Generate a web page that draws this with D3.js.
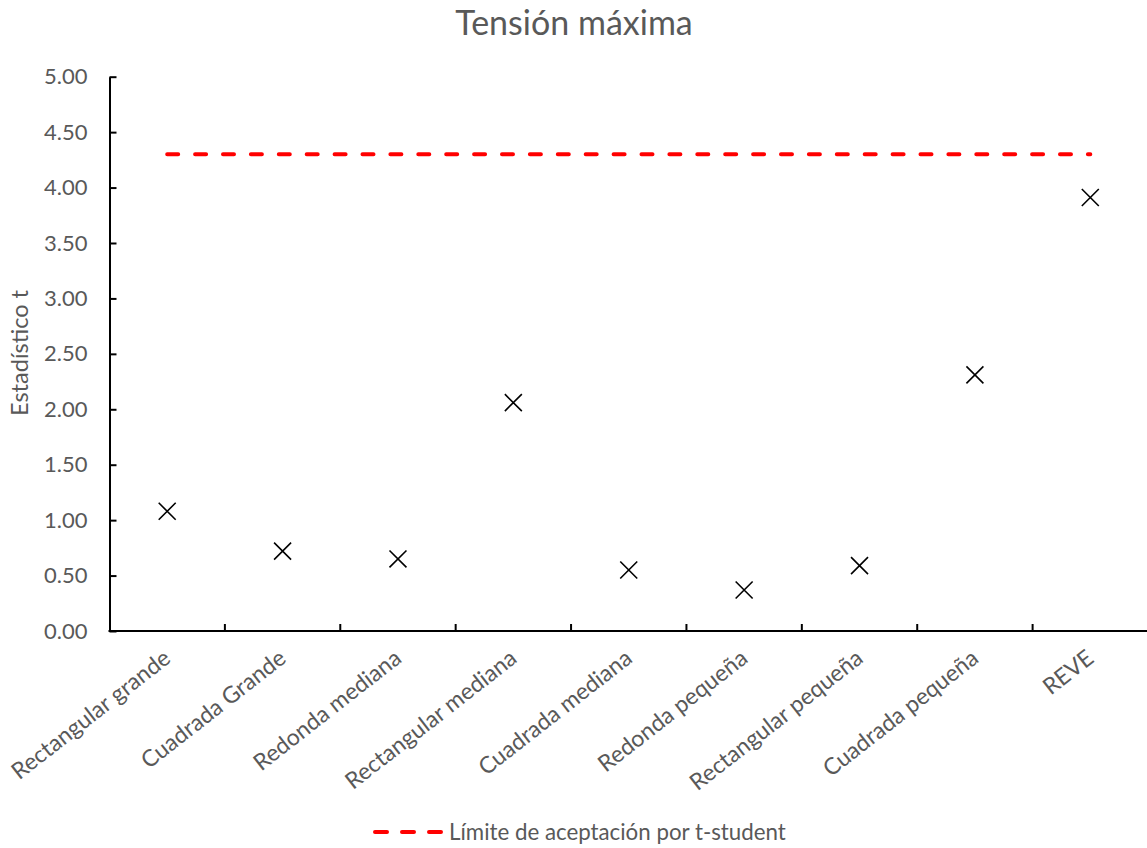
<!DOCTYPE html>
<html><head><meta charset="utf-8">
<script src="https://cdn.jsdelivr.net/npm/d3@7"></script>
<style>
html,body{margin:0;padding:0;background:#fff;}
text{font-family:Lato,"Open Sans",sans-serif;fill:#595959;}
</style></head>
<body><svg id="c" width="1147" height="848"></svg>
<script>
const categories = ["Rectangular grande","Cuadrada Grande","Redonda mediana","Rectangular mediana","Cuadrada mediana","Redonda pequeña","Rectangular pequeña","Cuadrada pequeña","REVE"];
const tStatValues = [1.08,0.72,0.65,2.06,0.55,0.37,0.59,2.31,3.91];
const acceptanceLimit = [4.30,4.30,4.30,4.30,4.30,4.30,4.30,4.30,4.30];
const yTicks = [0,0.5,1,1.5,2,2.5,3,3.5,4,4.5,5];
const titleText = "Tensión máxima";
const yLabel = "Estadístico t";
const legendLabel = "Límite de aceptación por t-student";

const svg = d3.select("#c");
const x = d3.scaleBand().domain(categories).range([109.5,1148]);
const y = d3.scaleLinear().domain([0,5]).range([631,76.7]);
const cx = d => x(d)+x.bandwidth()/2;

// title
svg.append("text").attr("x",574).attr("y",34.5).attr("text-anchor","middle")
  .style("font-size","34px").text(titleText);

// y axis
const ya = svg.append("g").attr("transform","translate(109.5,0)")
  .call(d3.axisLeft(y).tickValues(yTicks).tickFormat(d3.format(".2f")).tickSizeInner(-7).tickSizeOuter(0).tickPadding(22));
ya.select(".domain").attr("stroke","#000").attr("stroke-width",2);
ya.selectAll(".tick line").attr("stroke","#000").attr("stroke-width",2);
ya.selectAll(".tick text").style("font-size","22px").attr("fill","#595959").style("font-family","Lato");

// x axis
const xg = svg.append("g");
xg.append("line").attr("x1",108.5).attr("x2",1147).attr("y1",631).attr("y2",631).attr("stroke","#000").attr("stroke-width",2);
xg.selectAll("line.t").data(categories.slice(1)).enter().append("line").attr("class","t")
  .attr("x1",d=>x(d)).attr("x2",d=>x(d)).attr("y1",631).attr("y2",624).attr("stroke","#000").attr("stroke-width",2);
xg.selectAll("text.c").data(categories).enter().append("text").attr("class","c")
  .attr("text-anchor","end")
  .attr("transform",d=>`translate(${cx(d)+5},${661}) rotate(-38)`)
  .style("font-size","23px").text(d=>d);

// y label
svg.append("text").attr("transform","translate(28,353) rotate(-90)").attr("text-anchor","middle")
  .style("font-size","23.5px").text(yLabel);

// limit line
const line = d3.line().x((d,i)=>cx(categories[i])).y(d=>y(d));
svg.append("path").datum(acceptanceLimit).attr("d",line).attr("fill","none")
  .attr("stroke","#FF0000").attr("stroke-width",4).attr("stroke-linecap","round").attr("stroke-dasharray","11,16.9");

// markers
const sym = d3.symbol().type(d3.symbolTimes).size(190);
svg.selectAll("path.m").data(tStatValues).enter().append("path").attr("class","m")
  .attr("d",sym).attr("transform",(d,i)=>`translate(${cx(categories[i])},${y(d)})`)
  .attr("fill","none").attr("stroke","#000").attr("stroke-width",1.6);

// legend
svg.append("line").attr("x1",375).attr("x2",441).attr("y1",832).attr("y2",832)
  .attr("stroke","#FF0000").attr("stroke-width",4).attr("stroke-linecap","round").attr("stroke-dasharray","12,15");
svg.append("text").attr("x",449).attr("y",840).style("font-size","22.3px").text(legendLabel);
</script></body></html>
